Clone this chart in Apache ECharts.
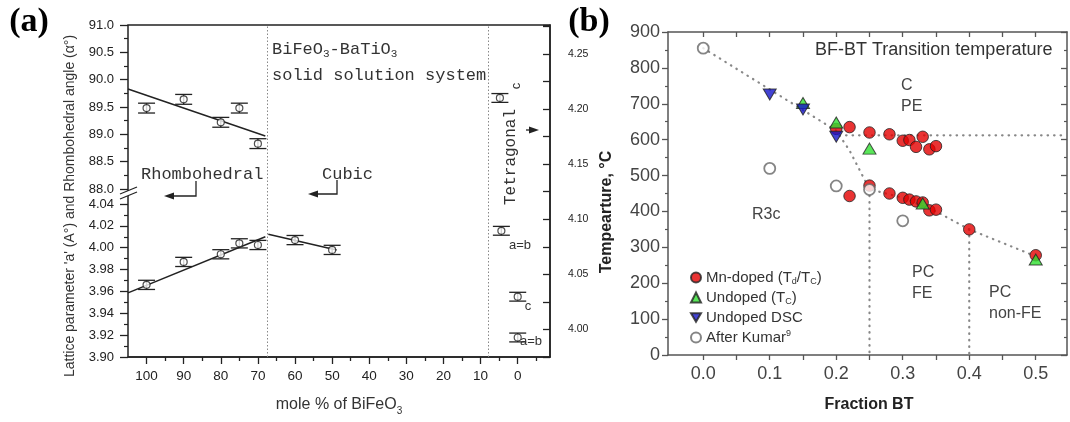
<!DOCTYPE html>
<html><head><meta charset="utf-8">
<script src="https://cdn.jsdelivr.net/npm/echarts@6/dist/echarts.min.js"></script>
<style>html,body{margin:0;padding:0;background:#fff}#c{width:1070px;height:422px}</style>
</head><body><div id="c"></div>
<script>
// ---------- Panel (a) data ----------
const rhomboMole = [100, 90, 80, 75, 70];
const rhomboAngle = [89.48, 89.64, 89.22, 89.48, 88.83];
const rhomboAngleErr = [0.09, 0.09, 0.09, 0.09, 0.09];
const rhomboLattice = [3.966, 3.987, 3.994, 4.004, 4.0025];
const rhomboLatticeErr = [0.0042, 0.0042, 0.0042, 0.0042, 0.0042];
const cubicMole = [60, 50];
const cubicLattice = [4.007, 3.998];
const cubicLatticeErr = [0.0042, 0.0042];
const tetraMole = [4.8, 4.4, 0, 0];
const tetraLattice = [4.210, 4.0895, 4.0297, 3.9927];
const tetraErr = [0.004, 0.004, 0.004, 0.004];
const angleFitMole = [105, 68];
const angleFitValue = [89.83, 88.97];
const rhomboFitMole = [105, 68];
const rhomboFitValue = [3.9587, 4.010];
const cubicFitMole = [67.2, 48.8];
const cubicFitValue = [4.0123, 3.998];
const phaseBoundaryMole = [67.5, 8];
const moleTicks = [0, 10, 20, 30, 40, 50, 60, 70, 80, 90, 100];
const moleMinorTicks = [-5, 5, 15, 25, 35, 45, 55, 65, 75, 85, 95];

// ---------- Panel (b) data ----------
const mnUpperX = [0.20, 0.22, 0.25, 0.28, 0.30, 0.31, 0.32, 0.33, 0.34, 0.35];
const mnUpperT = [630, 635, 620, 615, 597, 599, 580, 608, 573, 582];
const mnLowerX = [0.22, 0.25, 0.28, 0.30, 0.31, 0.32, 0.33, 0.34, 0.35, 0.40, 0.50];
const mnLowerT = [443, 472, 450, 438, 433, 428, 425, 403, 405, 350, 278];
const undopedX = [0.15, 0.20, 0.25, 0.33, 0.50];
const undopedT = [702, 648, 575, 422, 266];
const dscX = [0.10, 0.15, 0.20];
const dscT = [726, 684, 608];
const kumarX = [0.0, 0.10, 0.20, 0.25, 0.30];
const kumarT = [855, 520, 471, 461, 374];
const guideX = [0.0, 0.20, 0.22, 0.25, 0.30, 0.35, 0.40, 0.50];
const guideT = [855, 625, 570, 462, 438, 400, 350, 275];
const cubicBoundaryX = [0.205, 0.547];
const cubicBoundaryT = [612, 612];
const feBoundaryX = [0.25, 0.40];
const feBoundaryTop = [462, 350];
const fracTicks = [0, 0.1, 0.2, 0.3, 0.4, 0.5];
const fracTickMarks = [0, 0.05, 0.1, 0.15, 0.2, 0.25, 0.3, 0.35, 0.4, 0.45, 0.5];

const zip = (xs, ys) => xs.map((x, i) => [x, ys[i]]);
const zip3 = (xs, ys, es) => xs.map((x, i) => [x, ys[i], es[i]]);

const SANS = 'Liberation Sans';
const MONO = 'Liberation Mono';
const INK = '#222';

function errorBarItem(params, api) {
  const x = api.value(0), y = api.value(1), e = api.value(2);
  const hi = api.coord([x, y + e]), lo = api.coord([x, y - e]);
  const hw = 8.5;
  const st = () => ({ stroke: INK, lineWidth: 1.3, fill: null });
  return { type: 'group', children: [
    { type: 'line', shape: { x1: hi[0] - hw, y1: hi[1], x2: hi[0] + hw, y2: hi[1] }, style: st() },
    { type: 'line', shape: { x1: lo[0] - hw, y1: lo[1], x2: lo[0] + hw, y2: lo[1] }, style: st() },
    { type: 'line', shape: { x1: hi[0], y1: hi[1], x2: lo[0], y2: lo[1] }, style: st() }
  ]};
}
const circleStyle = { color: '#fff', borderColor: INK, borderWidth: 1.2 };
function errSeries(xi, yi, data) {
  return { type: 'custom', xAxisIndex: xi, yAxisIndex: yi, renderItem: errorBarItem, data: data, encode: { x: 0, y: 1 }, z: 2, silent: true };
}
function ptSeries(xi, yi, data, extra) {
  return Object.assign({ type: 'scatter', xAxisIndex: xi, yAxisIndex: yi, data: data, symbol: 'circle', symbolSize: 7, itemStyle: circleStyle, z: 3, silent: true }, extra || {});
}
function fitSeries(xi, yi, data) {
  return { type: 'line', xAxisIndex: xi, yAxisIndex: yi, data: data, symbol: 'none', lineStyle: { color: INK, width: 1.5 }, z: 2, silent: true };
}
const dotB = { color: '#888', width: 2.2, type: [0.5, 6], cap: 'round' };
function guide(data) {
  return { type: 'line', xAxisIndex: 4, yAxisIndex: 3, data: data, symbol: 'none', lineStyle: dotB, z: 1, silent: true };
}

const hiddenX = (gi) => ({ gridIndex: gi, type: 'value', min: -8.7, max: 105, inverse: true, show: false });

const option = {
  animation: false,
  grid: [
    { left: 128, top: 25, width: 422, height: 164 },
    { left: 128, top: 204, width: 422, height: 153 },
    { left: 128, top: 25, width: 422, height: 332, show: true, borderColor: INK, borderWidth: 1.5, backgroundColor: 'transparent' },
    { left: 668, top: 32, width: 399, height: 323 }
  ],
  xAxis: [
    hiddenX(0),
    hiddenX(1),
    { gridIndex: 2, type: 'value', min: -8.7, max: 105, inverse: true, position: 'bottom',
      axisLine: { show: true, onZero: false, lineStyle: { color: INK, width: 1.5 } },
      axisTick: { show: true, customValues: moleTicks, length: 7, lineStyle: { color: INK, width: 1.3 } },
      axisLabel: { customValues: moleTicks, margin: 12, fontSize: 13.5, color: INK, fontFamily: SANS },
      splitLine: { show: false } },
    { gridIndex: 2, type: 'value', min: -8.7, max: 105, inverse: true, position: 'bottom',
      axisLine: { show: false, onZero: false },
      axisTick: { show: true, customValues: moleMinorTicks, length: 4, lineStyle: { color: INK, width: 1.3 } },
      axisLabel: { show: false }, splitLine: { show: false } },
    { gridIndex: 3, type: 'value', min: -0.053, max: 0.547, position: 'bottom',
      axisLine: { show: true, onZero: false, lineStyle: { color: '#555', width: 1.5 } },
      axisTick: { show: true, customValues: fracTickMarks, length: 5, lineStyle: { color: '#555', width: 1.3 } },
      axisLabel: { customValues: fracTicks, formatter: v => v.toFixed(1), margin: 10, fontSize: 18, color: '#444', fontFamily: SANS },
      splitLine: { show: false } },
    { gridIndex: 3, type: 'value', min: -0.053, max: 0.547, position: 'top',
      axisLine: { show: true, onZero: false, lineStyle: { color: '#555', width: 1.5 } },
      axisTick: { show: true, inside: true, customValues: fracTickMarks, length: 5, lineStyle: { color: '#555', width: 1.3 } },
      axisLabel: { show: false }, splitLine: { show: false } }
  ],
  yAxis: [
    { gridIndex: 0, type: 'value', min: 88, max: 91, interval: 0.5,
      axisLine: { show: false, onZero: false },
      axisTick: { show: true, length: 8, lineStyle: { color: INK, width: 1.3 } },
      minorTick: { show: true, splitNumber: 2, length: 4, lineStyle: { color: INK, width: 1.2 } },
      axisLabel: { formatter: v => v.toFixed(1), margin: 14, fontSize: 13, color: INK, fontFamily: SANS },
      splitLine: { show: false }, minorSplitLine: { show: false } },
    { gridIndex: 1, type: 'value', min: 3.90, max: 4.04, interval: 0.02,
      axisLine: { show: false, onZero: false },
      axisTick: { show: true, length: 8, lineStyle: { color: INK, width: 1.3 } },
      minorTick: { show: true, splitNumber: 2, length: 4, lineStyle: { color: INK, width: 1.2 } },
      axisLabel: { formatter: v => v.toFixed(2), margin: 14, fontSize: 13, color: INK, fontFamily: SANS },
      splitLine: { show: false }, minorSplitLine: { show: false } },
    { gridIndex: 2, type: 'value', position: 'right', min: 3.975, max: 4.2762, interval: 0.025,
      axisLine: { show: true, onZero: false, lineStyle: { color: INK, width: 1.5 } },
      axisTick: { show: true, inside: true, length: 7, lineStyle: { color: INK, width: 1.3 } },
      axisLabel: { formatter: v => { const r = Math.round(v * 1000); return r % 50 === 0 ? (r / 1000).toFixed(2) : ''; },
        margin: 18, fontSize: 10.5, color: INK, fontFamily: SANS },
      splitLine: { show: false } },
    { gridIndex: 3, type: 'value', position: 'left', min: 0, max: 900, interval: 100,
      axisLine: { show: true, onZero: false, lineStyle: { color: '#555', width: 1.5 } },
      axisTick: { show: true, length: 6, lineStyle: { color: '#555', width: 1.3 } },
      minorTick: { show: true, splitNumber: 2, length: 3, lineStyle: { color: '#555', width: 1.2 } },
      axisLabel: { margin: 8, fontSize: 18, color: '#444', fontFamily: SANS },
      splitLine: { show: false }, minorSplitLine: { show: false } },
    { gridIndex: 3, type: 'value', position: 'right', min: 0, max: 900, interval: 100,
      axisLine: { show: true, onZero: false, lineStyle: { color: '#555', width: 1.5 } },
      axisTick: { show: true, inside: true, length: 6, lineStyle: { color: '#555', width: 1.3 } },
      minorTick: { show: true, splitNumber: 2, length: 3, lineStyle: { color: '#555', width: 1.2 } },
      axisLabel: { show: false }, splitLine: { show: false }, minorSplitLine: { show: false } }
  ],
  legend: {
    data: ['Mn-doped', 'Undoped', 'Undoped DSC', 'After Kumar'],
    orient: 'vertical', left: 685, top: 264, itemWidth: 10, itemHeight: 10, itemGap: 3,
    selectedMode: false,
    formatter: name => ({
      'Mn-doped': 'Mn-doped (T{sub|d}/T{sub|C})',
      'Undoped': 'Undoped (T{sub|C})',
      'Undoped DSC': 'Undoped DSC',
      'After Kumar': 'After Kumar{sup|9}'
    })[name],
    textStyle: { fontSize: 15, color: '#333', fontFamily: SANS, lineHeight: 17,
      rich: {
        sub: { fontSize: 9, fontFamily: SANS, color: '#333', verticalAlign: 'bottom', lineHeight: 17 },
        sup: { fontSize: 9, fontFamily: SANS, color: '#333', verticalAlign: 'top', lineHeight: 17 }
      } }
  },
  series: [
    errSeries(0, 0, zip3(rhomboMole, rhomboAngle, rhomboAngleErr)),
    ptSeries(0, 0, zip(rhomboMole, rhomboAngle)),
    fitSeries(0, 0, zip(angleFitMole, angleFitValue)),
    errSeries(1, 1, zip3(rhomboMole, rhomboLattice, rhomboLatticeErr)),
    ptSeries(1, 1, zip(rhomboMole, rhomboLattice)),
    errSeries(1, 1, zip3(cubicMole, cubicLattice, cubicLatticeErr)),
    ptSeries(1, 1, zip(cubicMole, cubicLattice)),
    fitSeries(1, 1, zip(rhomboFitMole, rhomboFitValue)),
    fitSeries(1, 1, zip(cubicFitMole, cubicFitValue)),
    errSeries(2, 2, zip3(tetraMole, tetraLattice, tetraErr)),
    ptSeries(2, 2, zip(tetraMole, tetraLattice), {
      markLine: { silent: true, symbol: ['none', 'none'], label: { show: false },
        lineStyle: { color: '#888', width: 1, type: [1.5, 2] },
        data: phaseBoundaryMole.map(m => ({ xAxis: m })) }
    }),
    guide(zip(guideX, guideT)),
    guide(zip(cubicBoundaryX, cubicBoundaryT)),
    guide([[feBoundaryX[0], feBoundaryTop[0]], [feBoundaryX[0], 0]]),
    guide([[feBoundaryX[1], feBoundaryTop[1]], [feBoundaryX[1], 0]]),
    { name: 'Mn-doped', type: 'scatter', xAxisIndex: 4, yAxisIndex: 3,
      data: zip(mnUpperX, mnUpperT).concat(zip(mnLowerX, mnLowerT)),
      symbol: 'circle', symbolSize: 11.5, z: 3,
      itemStyle: { color: '#e30000', borderColor: '#222', borderWidth: 1 } },
    { name: 'Undoped', type: 'scatter', xAxisIndex: 4, yAxisIndex: 3,
      data: zip(undopedX, undopedT), symbol: 'triangle', symbolSize: [13, 11], z: 4,
      itemStyle: { color: '#2fe02f', borderColor: '#222', borderWidth: 1 } },
    { name: 'Undoped DSC', type: 'scatter', xAxisIndex: 4, yAxisIndex: 3,
      data: zip(dscX, dscT), symbol: 'path://M0,0L2,0L1,1.7Z', symbolSize: [13, 11], z: 4,
      itemStyle: { color: '#1414c8', borderColor: '#222', borderWidth: 1 } },
    { name: 'After Kumar', type: 'scatter', xAxisIndex: 4, yAxisIndex: 3,
      data: zip(kumarX, kumarT), symbol: 'circle', symbolSize: 11, z: 5,
      itemStyle: { color: '#fff', borderColor: '#666', borderWidth: 1.8 } }
  ],
  graphic: []
};

const G = option.graphic;
function txt(x, y, text, st, extra) {
  G.push(Object.assign({ type: 'text', x: x, y: y, silent: true, z: 10,
    style: Object.assign({ text: text, fill: '#333', fontSize: 16, fontFamily: SANS, align: 'left', verticalAlign: 'middle' }, st || {}) }, extra || {}));
}
const monoRich = {
  n: { fontSize: 17, fontFamily: MONO, fill: '#333', lineHeight: 20 },
  s: { fontSize: 11, fontFamily: MONO, fill: '#333', verticalAlign: 'bottom', lineHeight: 22 }
};
txt(29, 22, '(a)', { fontSize: 34, fontFamily: 'Liberation Serif', fontWeight: 'bold', fill: '#000', align: 'center' });
txt(589, 22, '(b)', { fontSize: 34, fontFamily: 'Liberation Serif', fontWeight: 'bold', fill: '#000', align: 'center' });
txt(70, 206, "Lattice parameter 'a' (A°) and Rhombohedral angle (α°)", { fontSize: 14, align: 'center' }, { rotation: Math.PI / 2 });
txt(339, 405, '{n|mole % of BiFeO}{s|3}', { fontSize: 16, align: 'center',
  rich: { n: { fontSize: 16, fontFamily: SANS, fill: '#333', lineHeight: 20 }, s: { fontSize: 10, fontFamily: SANS, fill: '#333', verticalAlign: 'bottom', lineHeight: 22 } } });
txt(272, 49, '{n|BiFeO}{s|3}{n|-BaTiO}{s|3}', { fontSize: 17, fontFamily: MONO, rich: monoRich });
txt(272, 75, 'solid solution system', { fontSize: 17, fontFamily: MONO });
txt(141, 174, 'Rhombohedral', { fontSize: 17, fontFamily: MONO });
txt(322, 174, 'Cubic', { fontSize: 17, fontFamily: MONO });
txt(511, 157, 'Tetragonal', { fontSize: 16, fontFamily: MONO, align: 'center' }, { rotation: Math.PI / 2 });
txt(516, 86, 'c', { fontSize: 13, align: 'center' }, { rotation: Math.PI / 2 });
txt(520, 245, 'a=b', { fontSize: 13, align: 'center' });
txt(528, 306, 'c', { fontSize: 13, align: 'center' });
txt(531, 341, 'a=b', { fontSize: 13, align: 'center' });
function arrow(points, tip, dir) {
  G.push({ type: 'polyline', silent: true, z: 10, shape: { points: points }, style: { stroke: INK, lineWidth: 1.3, fill: null } });
  const [tx, ty] = tip, d = dir;
  G.push({ type: 'polygon', silent: true, z: 10, shape: { points: [[tx, ty], [tx - d * 10, ty - 3.5], [tx - d * 10, ty + 3.5]] }, style: { fill: INK } });
}
arrow([[196, 181], [196, 196], [172, 196]], [164, 196], -1);
arrow([[337, 180], [337, 194], [316, 194]], [308, 194], -1);
arrow([[526, 130], [532, 130]], [539, 130], 1);
G.push({ type: 'polygon', silent: true, z: 11, shape: { points: [[120, 194], [137, 187], [137, 192], [120, 199]] }, style: { fill: '#fff' } });
G.push({ type: 'line', silent: true, z: 12, shape: { x1: 120, y1: 194, x2: 137, y2: 187 }, style: { stroke: INK, lineWidth: 1.2 } });
G.push({ type: 'line', silent: true, z: 12, shape: { x1: 120, y1: 199, x2: 137, y2: 192 }, style: { stroke: INK, lineWidth: 1.2 } });
txt(607, 212, 'Tempearture, °C', { fontSize: 16, fontWeight: 'bold', fill: '#222', align: 'center' }, { rotation: Math.PI / 2 });
txt(869, 405, 'Fraction BT', { fontSize: 16, fontWeight: 'bold', fill: '#222', align: 'center' });
txt(815, 50, 'BF-BT Transition temperature', { fontSize: 18, fill: '#333' });
txt(901, 86, 'C', { fill: '#444' });
txt(901, 107, 'PE', { fill: '#444' });
txt(752, 215, 'R3c', { fill: '#444' });
txt(912, 273, 'PC', { fill: '#444' });
txt(912, 294, 'FE', { fill: '#444' });
txt(989, 293, 'PC', { fill: '#444' });
txt(989, 314, 'non-FE', { fill: '#444' });

const chart = echarts.init(document.getElementById('c'), null, { renderer: 'canvas' });
chart.setOption(option);
</script>
</body></html>
